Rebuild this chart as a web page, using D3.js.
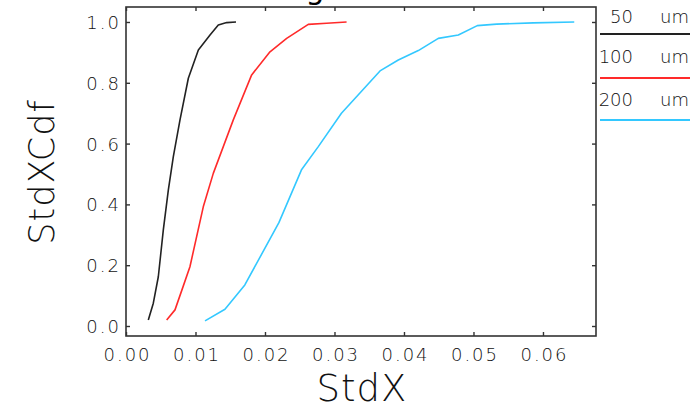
<!DOCTYPE html>
<html>
<head>
<meta charset="utf-8">
<script src="https://cdn.jsdelivr.net/npm/d3@7"></script>
<style>
  html, body { margin: 0; padding: 0; background: #fff; }
  svg { display: block; }
  text { font-family: "DejaVu Sans ExtraLight", "DejaVu Sans", sans-serif; font-weight: 200; fill: #111; }
</style>
</head>
<body>
<svg id="chart" width="692" height="409"></svg>
<script>
// Cumulative distributions of StdX for three aperture sizes
const seriesNames = ["50 um", "100 um", "200 um"];
const seriesColors = ["#222222", "#ff2a2a", "#33c8ff"];

const stdx50  = [0.00321, 0.00393, 0.00465, 0.00537, 0.00609, 0.00681, 0.00777, 0.00897, 0.01041, 0.01209, 0.01328, 0.01449, 0.01583];
const cdf50   = [0.020,   0.075,   0.162,   0.316,   0.447,   0.557,   0.678,   0.815,   0.908,   0.957,   0.990,   0.998,   1.000];

const stdx100 = [0.00585, 0.00705, 0.00825, 0.00920, 0.01112, 0.01256, 0.01400, 0.01544, 0.01808, 0.02072, 0.02312, 0.02623, 0.02886, 0.03174];
const cdf100  = [0.020,   0.053,   0.132,   0.195,   0.392,   0.502,   0.590,   0.678,   0.826,   0.902,   0.946,   0.992,   0.996,   1.000];

const stdx200 = [0.01137, 0.01424, 0.01710, 0.02200, 0.02528, 0.02767, 0.03100, 0.03655, 0.03918, 0.04206, 0.04494, 0.04782, 0.05055, 0.05333, 0.05860, 0.06450];
const cdf200  = [0.017,   0.055,   0.135,   0.340,   0.515,   0.590,   0.700,   0.839,   0.875,   0.906,   0.946,   0.957,   0.988,   0.993,   0.997,   1.000];

const xTicks = [0.00, 0.01, 0.02, 0.03, 0.04, 0.05, 0.06];
const yTicks = [0.0, 0.2, 0.4, 0.6, 0.8, 1.0];

const series = [
  { name: seriesNames[0], color: seriesColors[0], xs: stdx50,  ys: cdf50 },
  { name: seriesNames[1], color: seriesColors[1], xs: stdx100, ys: cdf100 },
  { name: seriesNames[2], color: seriesColors[2], xs: stdx200, ys: cdf200 }
];

const svg = d3.select("#chart");
const box = { left: 126, top: 7, right: 596, bottom: 336 };

const x = d3.scaleLinear().domain([0, 0.06763]).range([box.left, box.right]);
const y = d3.scaleLinear().domain([-0.0329, 1.0493]).range([box.bottom, box.top]);

// Title (runs off the top edge)
svg.append("text")
  .attr("x", 315).attr("y", -1)
  .attr("text-anchor", "middle")
  .style("font-size", "30px")
  .style("font-weight", "400")
  .style("fill", "#000")
  .text("g");

// Curves
const line = d3.line().x(d => x(d[0])).y(d => y(d[1]));
series.forEach(s => {
  svg.append("path")
    .datum(s.xs.map((v, i) => [v, s.ys[i]]))
    .attr("fill", "none")
    .attr("stroke", s.color)
    .attr("stroke-width", 1.6)
    .attr("stroke-linejoin", "round")
    .attr("d", line);
});

// Frame
svg.append("rect")
  .attr("x", box.left).attr("y", box.top)
  .attr("width", box.right - box.left).attr("height", box.bottom - box.top)
  .attr("fill", "none").attr("stroke", "#333").attr("stroke-width", 1.6);

// Axes with inward ticks on all four sides
const tick = 4;
const gb = svg.append("g").attr("transform", `translate(0,${box.bottom})`)
  .call(d3.axisBottom(x).tickValues(xTicks).tickFormat(d3.format(".2f")).tickSizeInner(-tick).tickSizeOuter(0));
const gl = svg.append("g").attr("transform", `translate(${box.left},0)`)
  .call(d3.axisLeft(y).tickValues(yTicks).tickFormat(d3.format(".1f")).tickSizeInner(-tick).tickSizeOuter(0));
const gt = svg.append("g").attr("transform", `translate(0,${box.top})`)
  .call(d3.axisTop(x).tickValues(xTicks).tickFormat("").tickSizeInner(-tick).tickSizeOuter(0));
const gr = svg.append("g").attr("transform", `translate(${box.right},0)`)
  .call(d3.axisRight(y).tickValues(yTicks).tickFormat("").tickSizeInner(-tick).tickSizeOuter(0));

[gb, gl, gt, gr].forEach(g => {
  g.select(".domain").remove();
  g.selectAll(".tick line").attr("stroke", "#333").attr("stroke-width", 1.4);
});

gb.selectAll(".tick text")
  .attr("y", 25).attr("dy", 0)
  .attr("dx", "1px")
  .style("font-family", null)
  .style("font-size", "18px")
  .style("letter-spacing", "2px")
  .style("fill", "#111");
gl.selectAll(".tick text")
  .attr("x", -5).attr("dy", "0.36em")
  .style("font-family", null)
  .style("font-size", "18px")
  .style("letter-spacing", "2px")
  .style("fill", "#111");

// Axis titles
svg.append("text")
  .attr("x", 362).attr("y", 401)
  .attr("text-anchor", "middle")
  .style("font-size", "37px")
  .style("letter-spacing", "1px")
  .text("StdX");

svg.append("text")
  .attr("transform", "translate(54,172) rotate(-90)")
  .attr("text-anchor", "middle")
  .style("font-size", "35px")
  .style("letter-spacing", "1px")
  .text("StdXCdf");

// Legend: size value right-aligned, unit right-aligned at the edge
const legendBase = [23, 63, 106];
const legendLine = [34, 78, 120];
series.forEach((s, i) => {
  const [num, unit] = s.name.split(" ");
  svg.append("text")
    .attr("x", 633).attr("y", legendBase[i])
    .attr("text-anchor", "end")
    .style("font-size", "18px")
    .text(num);
  svg.append("text")
    .attr("x", 689).attr("y", legendBase[i])
    .attr("text-anchor", "end")
    .style("font-size", "18px")
    .text(unit);
  svg.append("line")
    .attr("x1", 600).attr("x2", 690)
    .attr("y1", legendLine[i]).attr("y2", legendLine[i])
    .attr("stroke", s.color).attr("stroke-width", 1.8);
});
</script>
</body>
</html>
